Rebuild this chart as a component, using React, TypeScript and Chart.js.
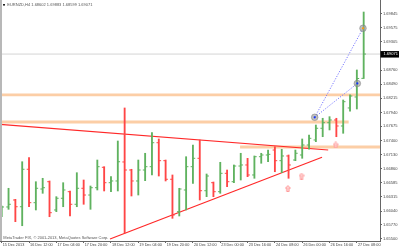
import React, { useEffect, useRef } from "react";
import { Chart, registerables } from "chart.js";
Chart.register(...registerables);

// ---- data ----
const symbol = "EURNZD";
const period = "H4";
const copyright = "MetaTrader FIX, \u00a9 2001-2013, MetaQuotes Software Corp.";

const xTickBars = [0, 4, 8, 12, 16, 20, 24, 28, 32, 36, 40, 44, 48, 52];
const xTickLabels = [
  "15 Dec 2013", "16 Dec 12:00", "17 Dec 04:00", "17 Dec 20:00", "18 Dec 12:00",
  "19 Dec 04:00", "19 Dec 20:00", "20 Dec 12:00", "23 Dec 00:00", "23 Dec 16:00",
  "24 Dec 08:00", "26 Dec 00:00", "26 Dec 16:00", "27 Dec 08:00",
];
const yTickValues = [
  1.69845, 1.69575, 1.69305, 1.6876, 1.6849, 1.68215, 1.6794, 1.67675, 1.674,
  1.6713, 1.6686, 1.66585, 1.66315, 1.6604, 1.6577, 1.655,
];

const openP = [
  1.65982, 1.66118, 1.66253, 1.66123, 1.66846, 1.66201, 1.66465, 1.66606, 1.6606, 1.66286,
  1.66413, 1.6617, 1.66479, 1.66349, 1.6649, 1.66884, 1.66587, 1.6662, 1.66987, 1.66832,
  1.6662, 1.66832, 1.66896, 1.67359, 1.67012, 1.66653, 1.66027, 1.66446, 1.66896, 1.67058,
  1.66432, 1.66587, 1.66413, 1.66768, 1.66606, 1.66909, 1.66929, 1.66736, 1.67089, 1.67122,
  1.67218, 1.67012, 1.67103, 1.67025, 1.67122, 1.67315, 1.67412, 1.67638, 1.67746, 1.67798,
  1.67682, 1.6803, 1.68242, 1.68602,
];
const highP = [
  1.66137, 1.66479, 1.66266, 1.66992, 1.6707, 1.66606, 1.66672, 1.6662, 1.66317, 1.66587,
  1.66427, 1.6678, 1.66639, 1.66523, 1.67025, 1.66896, 1.66703, 1.67392, 1.6803, 1.66846,
  1.67025, 1.67155, 1.67553, 1.67431, 1.67025, 1.66736, 1.66479, 1.67089, 1.67315, 1.67412,
  1.66755, 1.666, 1.66981, 1.66832, 1.66929, 1.67155, 1.67058, 1.67103, 1.67155, 1.67218,
  1.67282, 1.67232, 1.67122, 1.67218, 1.67431, 1.67508, 1.67701, 1.67831, 1.67862, 1.67831,
  1.68184, 1.68286, 1.68764, 1.69883,
];
const lowP = [
  1.6593, 1.66073, 1.65834, 1.65756, 1.66123, 1.6606, 1.66382, 1.6593, 1.66027, 1.66123,
  1.65944, 1.66123, 1.6617, 1.66073, 1.66446, 1.66427, 1.66413, 1.66427, 1.65616, 1.6633,
  1.66349, 1.66626, 1.66736, 1.66716, 1.6662, 1.65899, 1.65944, 1.6606, 1.66575, 1.66253,
  1.66317, 1.66317, 1.66382, 1.6651, 1.66587, 1.66639, 1.66703, 1.66672, 1.66962, 1.66992,
  1.66799, 1.6678, 1.66672, 1.67012, 1.67058, 1.67232, 1.67379, 1.67475, 1.67605, 1.67475,
  1.67541, 1.67966, 1.6801, 1.68599,
];
const closeP = [
  1.66118, 1.6617, 1.66123, 1.66846, 1.66201, 1.66479, 1.6649, 1.66008, 1.66286, 1.66446,
  1.6617, 1.66479, 1.66349, 1.6649, 1.66896, 1.66587, 1.6662, 1.66992, 1.66832, 1.6662,
  1.66832, 1.66896, 1.67359, 1.67012, 1.66653, 1.65963, 1.66465, 1.66896, 1.67058, 1.66432,
  1.66716, 1.66413, 1.66768, 1.66606, 1.66909, 1.66929, 1.66736, 1.67089, 1.67122, 1.67135,
  1.67012, 1.67103, 1.66929, 1.67155, 1.67315, 1.67444, 1.67638, 1.67746, 1.67798, 1.67682,
  1.68151, 1.68261, 1.68599, 1.69071,
];

const currentPrice = 1.69071;
const xMin = -0.25;
const xMax = 55.39;
const yMin = 1.65461;
const yMax = 1.70115;

// horizontal levels (bands)
const levelPrices = [1.68281, 1.67759, 1.67276];
const levelFrom = [-1, -1, 34.9];
const levelTo = [57, 50.8, 57];

// trend lines [x0, x1], [y0, y1]
const upperTrendX = [-0.3, 47.8];
const upperTrendY = [1.67715, 1.67218];
const lowerTrendX = [15.86, 46.9];
const lowerTrendY = [1.655, 1.67079];

// circles & dotted projections
const circleX = [45.83, 52.07, 52.9];
const circleY = [1.6785, 1.68503, 1.69569];

// buy arrows
const arrowX = [41.9, 43.9, 48.9];
const arrowY = [1.66475, 1.66716, 1.67315];

const GREEN = "rgb(95,178,95)";
const RED = "rgb(255,70,70)";
const FONT = "'Liberation Sans', Arial, sans-serif";

function makeArrow(): HTMLCanvasElement {
  const c = document.createElement("canvas");
  c.width = 6;
  c.height = 7;
  const g = c.getContext("2d")!;
  g.beginPath();
  g.moveTo(3, 0.5);
  g.lineTo(5.5, 3.2);
  g.lineTo(4.2, 3.2);
  g.lineTo(4.2, 6.5);
  g.lineTo(1.8, 6.5);
  g.lineTo(1.8, 3.2);
  g.lineTo(0.5, 3.2);
  g.closePath();
  g.fillStyle = "rgb(255,210,210)";
  g.fill();
  g.strokeStyle = "rgb(255,140,140)";
  g.lineWidth = 0.8;
  g.stroke();
  return c;
}

const overlayPlugin = {
  id: "mtOverlay",
  afterDraw(chart: any) {
    const ctx = chart.ctx as CanvasRenderingContext2D;
    const ys = chart.scales.y;
    const last = openP.length - 1;
    ctx.save();
    ctx.font = `4px ${FONT}`;
    ctx.textBaseline = "middle";
    // header
    ctx.fillStyle = "#222";
    ctx.fillRect(3, 4, 2, 1.6);
    ctx.fillStyle = "#555";
    const header = `${symbol},${period} ${openP[last].toFixed(5)} ${highP[last].toFixed(5)} ${lowP[last].toFixed(5)} ${closeP[last].toFixed(5)}`;
    ctx.fillText(header, 7.3, 5);
    // copyright
    ctx.fillText(copyright, 3.3, 237.6);
    // current price box
    const y = ys.getPixelForValue(currentPrice);
    ctx.fillStyle = "#000";
    ctx.fillRect(380.5, y - 3, 18.5, 6.5);
    ctx.fillStyle = "#fff";
    ctx.fillText(currentPrice.toFixed(5), 383.5, y + 0.3);
    ctx.restore();
  },
};

export default function App() {
  const ref = useRef<HTMLCanvasElement | null>(null);
  useEffect(() => {
    const canvas = ref.current;
    if (!canvas) return;
    const idx = openP.map((_, i) => i);
    const colors = idx.map((i) => (closeP[i] >= openP[i] ? GREEN : RED));
    const tickOff = 0.168;
    const arrowImg = makeArrow();
    const pts = (xs: number[], ys: number[]) => xs.map((x, i) => ({ x, y: ys[i] }));

    const datasets: any[] = [
      {
        type: "line",
        data: pts(circleX, circleY),
        showLine: false,
        pointRadius: 1.1,
        pointBackgroundColor: ["#1030ff", "#1030ff", "#ff9a00"],
        pointBorderWidth: 0,
        order: 0,
      },
      {
        type: "line",
        data: pts(circleX, circleY),
        showLine: false,
        pointRadius: 3.3,
        pointBackgroundColor: "rgba(150,150,150,0.6)",
        pointBorderColor: "rgba(120,120,120,0.7)",
        pointBorderWidth: 0.7,
        order: 1,
      },
      {
        type: "line",
        data: [
          { x: circleX[0], y: circleY[0] },
          { x: circleX[2], y: circleY[2] },
        ],
        borderColor: "rgb(120,120,255)",
        borderWidth: 1,
        borderDash: [1.2, 1.5],
        pointRadius: 0,
        order: 2,
      },
      {
        type: "line",
        data: [
          { x: circleX[0], y: circleY[0] },
          { x: circleX[1], y: circleY[1] },
        ],
        borderColor: "rgb(120,120,255)",
        borderWidth: 1,
        borderDash: [1.2, 1.5],
        pointRadius: 0,
        order: 2,
      },
      {
        type: "line",
        data: pts(arrowX, arrowY),
        showLine: false,
        pointStyle: arrowImg,
        pointRadius: 3,
        order: 3,
      },
      {
        type: "line",
        data: idx.map((i) => ({ x: i - tickOff, y: openP[i] })),
        showLine: false,
        pointStyle: "line",
        pointRadius: 1.15,
        pointBorderWidth: 1,
        pointBorderColor: colors,
        order: 4,
      },
      {
        type: "line",
        data: idx.map((i) => ({ x: i + tickOff, y: closeP[i] })),
        showLine: false,
        pointStyle: "line",
        pointRadius: 1.15,
        pointBorderWidth: 1,
        pointBorderColor: colors,
        order: 4,
      },
      {
        type: "bar",
        data: idx.map((i) => ({ x: i, y: [lowP[i], highP[i]] })),
        backgroundColor: colors,
        borderWidth: 0,
        barThickness: 1.2,
        order: 5,
      },
      {
        type: "line",
        data: pts(upperTrendX, upperTrendY),
        borderColor: "rgb(255,40,40)",
        borderWidth: 1.2,
        pointRadius: 0,
        order: 6,
      },
      {
        type: "line",
        data: pts(lowerTrendX, lowerTrendY),
        borderColor: "rgb(255,40,40)",
        borderWidth: 1.2,
        pointRadius: 0,
        order: 6,
      },
      {
        type: "line",
        data: [
          { x: xMin - 1, y: currentPrice },
          { x: xMax + 1, y: currentPrice },
        ],
        borderColor: "#d4d4d4",
        borderWidth: 1,
        pointRadius: 0,
        order: 7,
      },
      ...levelPrices.map((p, k) => ({
        type: "line",
        data: [
          { x: levelFrom[k], y: p },
          { x: levelTo[k], y: p },
        ],
        borderColor: "rgb(252,206,166)",
        borderWidth: 2.8,
        pointRadius: 0,
        order: 8,
      })),
    ];

    const chart = new Chart(canvas, {
      type: "bar",
      data: { datasets },
      options: {
        animation: false,
        responsive: false,
        devicePixelRatio: 1,
        events: [],
        layout: { padding: 0, autoPadding: false },
        plugins: { legend: { display: false }, tooltip: { enabled: false }, title: { display: false } },
        scales: {
          x: {
            type: "linear",
            min: xMin,
            max: xMax,
            offset: false,
            afterBuildTicks: (s: any) => {
              s.ticks = xTickBars.map((v) => ({ value: v }));
            },
            afterFit: (s: any) => {
              s.height = 8;
              s.paddingLeft = 0;
              s.paddingRight = 0;
            },
            ticks: {
              autoSkip: false,
              maxRotation: 0,
              minRotation: 0,
              align: "start",
              padding: 0,
              color: "#444",
              font: { size: 3.8, family: FONT },
              callback: (v: any) => {
                const k = xTickBars.indexOf(Number(v));
                return k >= 0 ? " " + xTickLabels[k] : "";
              },
            },
            grid: { drawOnChartArea: false, drawTicks: true, tickLength: 2, color: "#666", offset: false },
            border: { display: true, color: "#666", width: 1 },
          },
          y: {
            type: "linear",
            position: "right",
            min: yMin,
            max: yMax,
            afterBuildTicks: (s: any) => {
              s.ticks = yTickValues.map((v) => ({ value: v }));
            },
            afterFit: (s: any) => {
              s.width = 19;
              s.paddingTop = 0;
              s.paddingBottom = 0;
            },
            ticks: {
              autoSkip: false,
              padding: 1,
              color: "#444",
              font: { size: 4, family: FONT },
              callback: (v: any) => Number(v).toFixed(5),
            },
            grid: { drawOnChartArea: false, drawTicks: true, tickLength: 2, color: "#666" },
            border: { display: true, color: "#666", width: 1 },
          },
        },
      } as any,
      plugins: [overlayPlugin],
    });
    return () => chart.destroy();
  }, []);

  return (
    <div style={{ position: "absolute", left: 0, top: 0, width: 399, height: 249, background: "#fff" }}>
      <canvas ref={ref} width={399} height={249} style={{ display: "block", width: 399, height: 249 }} />
      <div style={{ position: "absolute", left: 0, top: 0, width: 2, height: 241, background: "#b8b8b8" }} />
    </div>
  );
}
